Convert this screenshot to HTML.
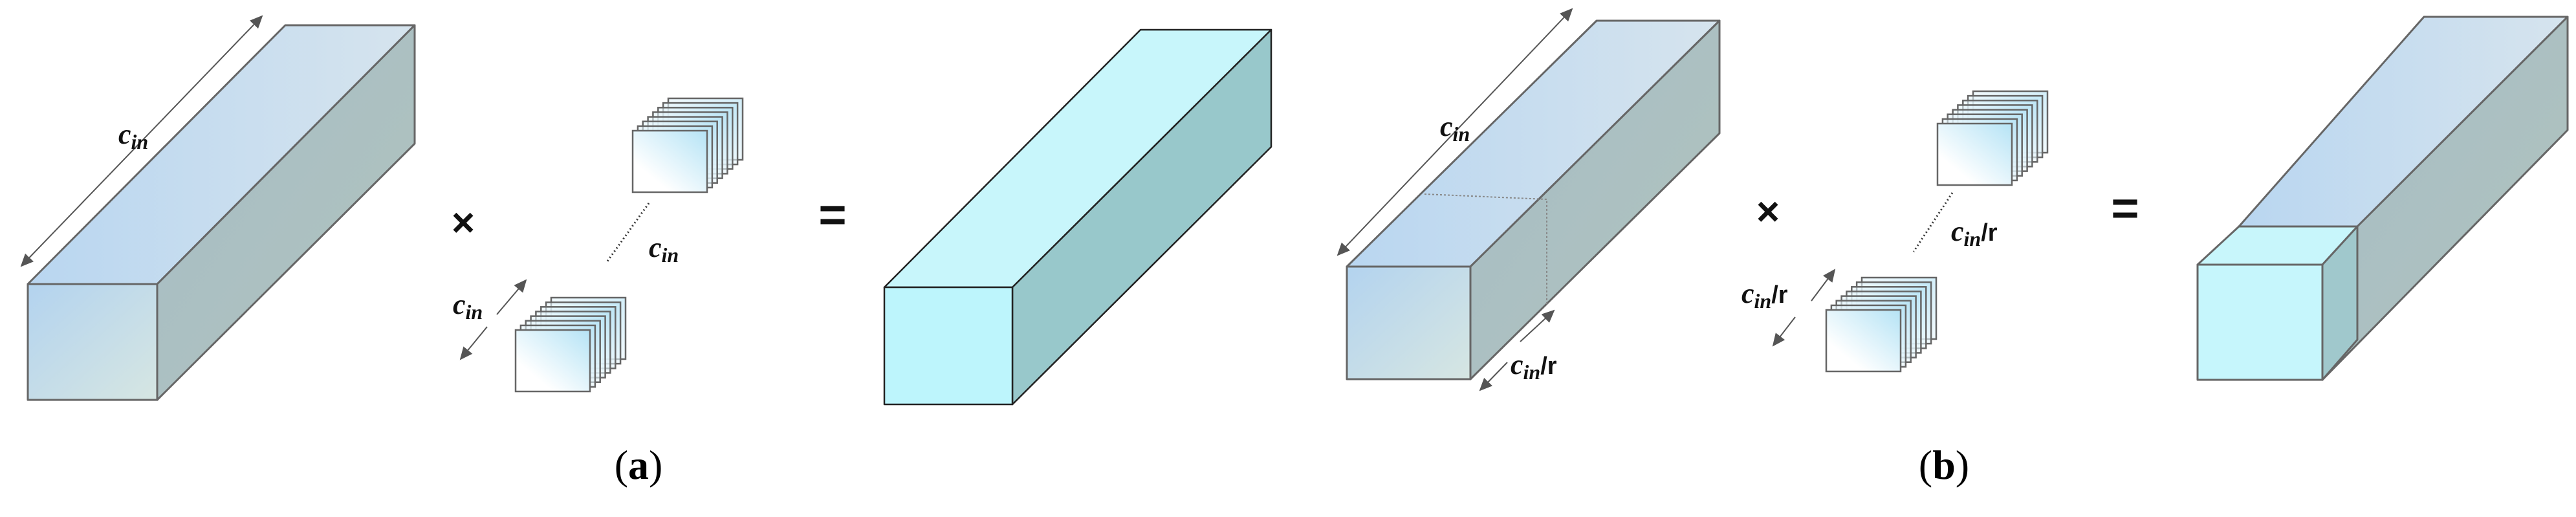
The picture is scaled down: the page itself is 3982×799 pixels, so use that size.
<!DOCTYPE html>
<html><head><meta charset="utf-8"><style>
html,body{margin:0;padding:0;background:#fff;}
svg{display:block;}
.lbl{font-family:"Liberation Serif",serif;font-style:italic;font-weight:bold;fill:#111;}
.cap{font-family:"Liberation Serif",serif;fill:#000;}
</style></head><body>
<svg width="3982" height="799" viewBox="0 0 3982 799" xmlns="http://www.w3.org/2000/svg">
<defs>
<linearGradient id="topG" x1="0" y1="0" x2="1" y2="0"><stop offset="0" stop-color="#b9d6f0"/><stop offset="1" stop-color="#d6e4ee"/></linearGradient>
<linearGradient id="frontG" x1="0" y1="0" x2="1" y2="1"><stop offset="0" stop-color="#b3d3ef"/><stop offset="1" stop-color="#d6e6e2"/></linearGradient>
<linearGradient id="sideG" x1="0" y1="0" x2="1" y2="1"><stop offset="0" stop-color="#a6bcc6"/><stop offset="1" stop-color="#b1c4bd"/></linearGradient>
<linearGradient id="fr" x1="1" y1="0" x2="0" y2="1"><stop offset="0" stop-color="#b5e3f5"/><stop offset="0.75" stop-color="#ffffff"/></linearGradient>
<marker id="ah" viewBox="0 0 10 10" refX="9" refY="5" markerWidth="10" markerHeight="10" orient="auto-start-reverse"><path d="M0,0.5 L10,5 L0,9.5 z" fill="#555"/></marker>
<g id="stack">
<rect x="55" y="0" width="115" height="95" fill="url(#fr)" fill-opacity="0.6" stroke="#666" stroke-width="2.5"/>
<rect x="47.1" y="7.1" width="115" height="95" fill="url(#fr)" fill-opacity="0.6" stroke="#666" stroke-width="2.5"/>
<rect x="39.3" y="14.3" width="115" height="95" fill="url(#fr)" fill-opacity="0.6" stroke="#666" stroke-width="2.5"/>
<rect x="31.4" y="21.4" width="115" height="95" fill="url(#fr)" fill-opacity="0.6" stroke="#666" stroke-width="2.5"/>
<rect x="23.6" y="28.6" width="115" height="95" fill="url(#fr)" fill-opacity="0.6" stroke="#666" stroke-width="2.5"/>
<rect x="15.7" y="35.7" width="115" height="95" fill="url(#fr)" fill-opacity="0.6" stroke="#666" stroke-width="2.5"/>
<rect x="7.9" y="42.9" width="115" height="95" fill="url(#fr)" fill-opacity="0.6" stroke="#666" stroke-width="2.5"/>
<rect x="0" y="50" width="115" height="95" fill="url(#fr)" stroke="#666" stroke-width="2.5"/>
</g>
</defs>

<g stroke="#666" stroke-width="3" stroke-linejoin="round">
<polygon points="43,439 441,39 641,39 243,439" fill="url(#topG)"/>
<polygon points="243,439 641,39 641,222 243,618" fill="url(#sideG)"/>
<rect x="43" y="439" width="200" height="179" fill="url(#frontG)"/>
</g>
<line x1="405" y1="25" x2="33" y2="411" stroke="#555" stroke-width="2" marker-start="url(#ah)" marker-end="url(#ah)"/>
<text class="lbl" x="183" y="222" font-size="44">c<tspan font-size="32" dy="8">in</tspan></text>

<text x="716" y="365" font-family="Liberation Sans,sans-serif" font-weight="bold" font-size="62" text-anchor="middle" fill="#111">×</text>
<use href="#stack" x="978" y="152"/>
<line x1="1003" y1="314" x2="938" y2="405" stroke="#333" stroke-width="3" stroke-dasharray="2,4"/>
<text class="lbl" x="1003" y="397" font-size="44">c<tspan font-size="32" dy="8">in</tspan></text>
<use href="#stack" x="797" y="460"/>
<line x1="768" y1="486" x2="813" y2="433" stroke="#555" stroke-width="2" marker-end="url(#ah)"/>
<line x1="753" y1="505" x2="712" y2="555" stroke="#555" stroke-width="2" marker-end="url(#ah)"/>
<text class="lbl" x="700" y="485" font-size="44">c<tspan font-size="32" dy="8">in</tspan></text>

<text x="1287" y="357" font-family="Liberation Sans,sans-serif" font-weight="bold" font-size="74" text-anchor="middle" fill="#111">=</text>

<g stroke="#222" stroke-width="2.5" stroke-linejoin="round">
<polygon points="1367,444 1763,46 1965,46 1565,444" fill="#c8f6fb"/>
<polygon points="1565,444 1965,46 1965,227 1565,625" fill="#98c8cb"/>
<rect x="1367" y="444" width="198" height="181" fill="#bdf5fc"/>
</g>
<text class="cap" x="987" y="740" font-size="64" text-anchor="middle">(<tspan font-weight="bold">a</tspan>)</text>

<g stroke="#666" stroke-width="3" stroke-linejoin="round">
<polygon points="2082,412 2468,32 2658,32 2273,412" fill="url(#topG)"/>
<polygon points="2273,412 2658,32 2658,206 2273,586" fill="url(#sideG)"/>
<rect x="2082" y="412" width="191" height="174" fill="url(#frontG)"/>
</g>
<polyline points="2202,300 2391,308 2391,471" fill="none" stroke="#888" stroke-width="2" stroke-dasharray="3,3"/>
<line x1="2430" y1="14" x2="2068" y2="394" stroke="#555" stroke-width="2" marker-start="url(#ah)" marker-end="url(#ah)"/>
<text class="lbl" x="2226" y="210" font-size="44">c<tspan font-size="32" dy="8">in</tspan></text>
<line x1="2350" y1="528" x2="2402" y2="480" stroke="#555" stroke-width="2" marker-end="url(#ah)"/>
<line x1="2330" y1="560" x2="2288" y2="603" stroke="#555" stroke-width="2" marker-end="url(#ah)"/>
<text class="lbl" x="2335" y="578" font-size="44">c<tspan font-size="32" dy="8">in</tspan><tspan font-style="normal" font-family="Liberation Sans,sans-serif" font-size="38" dy="-8">/r</tspan></text>

<text x="2733" y="348" font-family="Liberation Sans,sans-serif" font-weight="bold" font-size="62" text-anchor="middle" fill="#111">×</text>
<use href="#stack" x="2995" y="141"/>
<line x1="3018" y1="298" x2="2958" y2="389" stroke="#333" stroke-width="3" stroke-dasharray="2,4"/>
<text class="lbl" x="3016" y="372" font-size="44">c<tspan font-size="32" dy="8">in</tspan><tspan font-style="normal" font-family="Liberation Sans,sans-serif" font-size="38" dy="-8">/r</tspan></text>
<use href="#stack" x="2823" y="429"/>
<line x1="2800" y1="465" x2="2836" y2="417" stroke="#555" stroke-width="2" marker-end="url(#ah)"/>
<line x1="2775" y1="490" x2="2741" y2="534" stroke="#555" stroke-width="2" marker-end="url(#ah)"/>
<text class="lbl" x="2692" y="468" font-size="44">c<tspan font-size="32" dy="8">in</tspan><tspan font-style="normal" font-family="Liberation Sans,sans-serif" font-size="38" dy="-8">/r</tspan></text>

<text x="3285" y="347" font-family="Liberation Sans,sans-serif" font-weight="bold" font-size="74" text-anchor="middle" fill="#111">=</text>

<g stroke="#666" stroke-width="3" stroke-linejoin="round">
<polygon points="3461,350 3747,26 3969,26 3644,350" fill="url(#topG)"/>
<polygon points="3644,350 3969,26 3969,201 3590,587 3590,409" fill="url(#sideG)"/>
<polygon points="3397,409 3461,350 3644,350 3590,409" fill="#c8f6fb"/>
<polygon points="3590,409 3644,350 3644,525 3590,587" fill="#a0c8cc"/>
<rect x="3397" y="409" width="193" height="178" fill="#c6f6fc"/>
</g>
<text class="cap" x="3005" y="740" font-size="64" text-anchor="middle">(<tspan font-weight="bold">b</tspan>)</text>
</svg>
</body></html>
